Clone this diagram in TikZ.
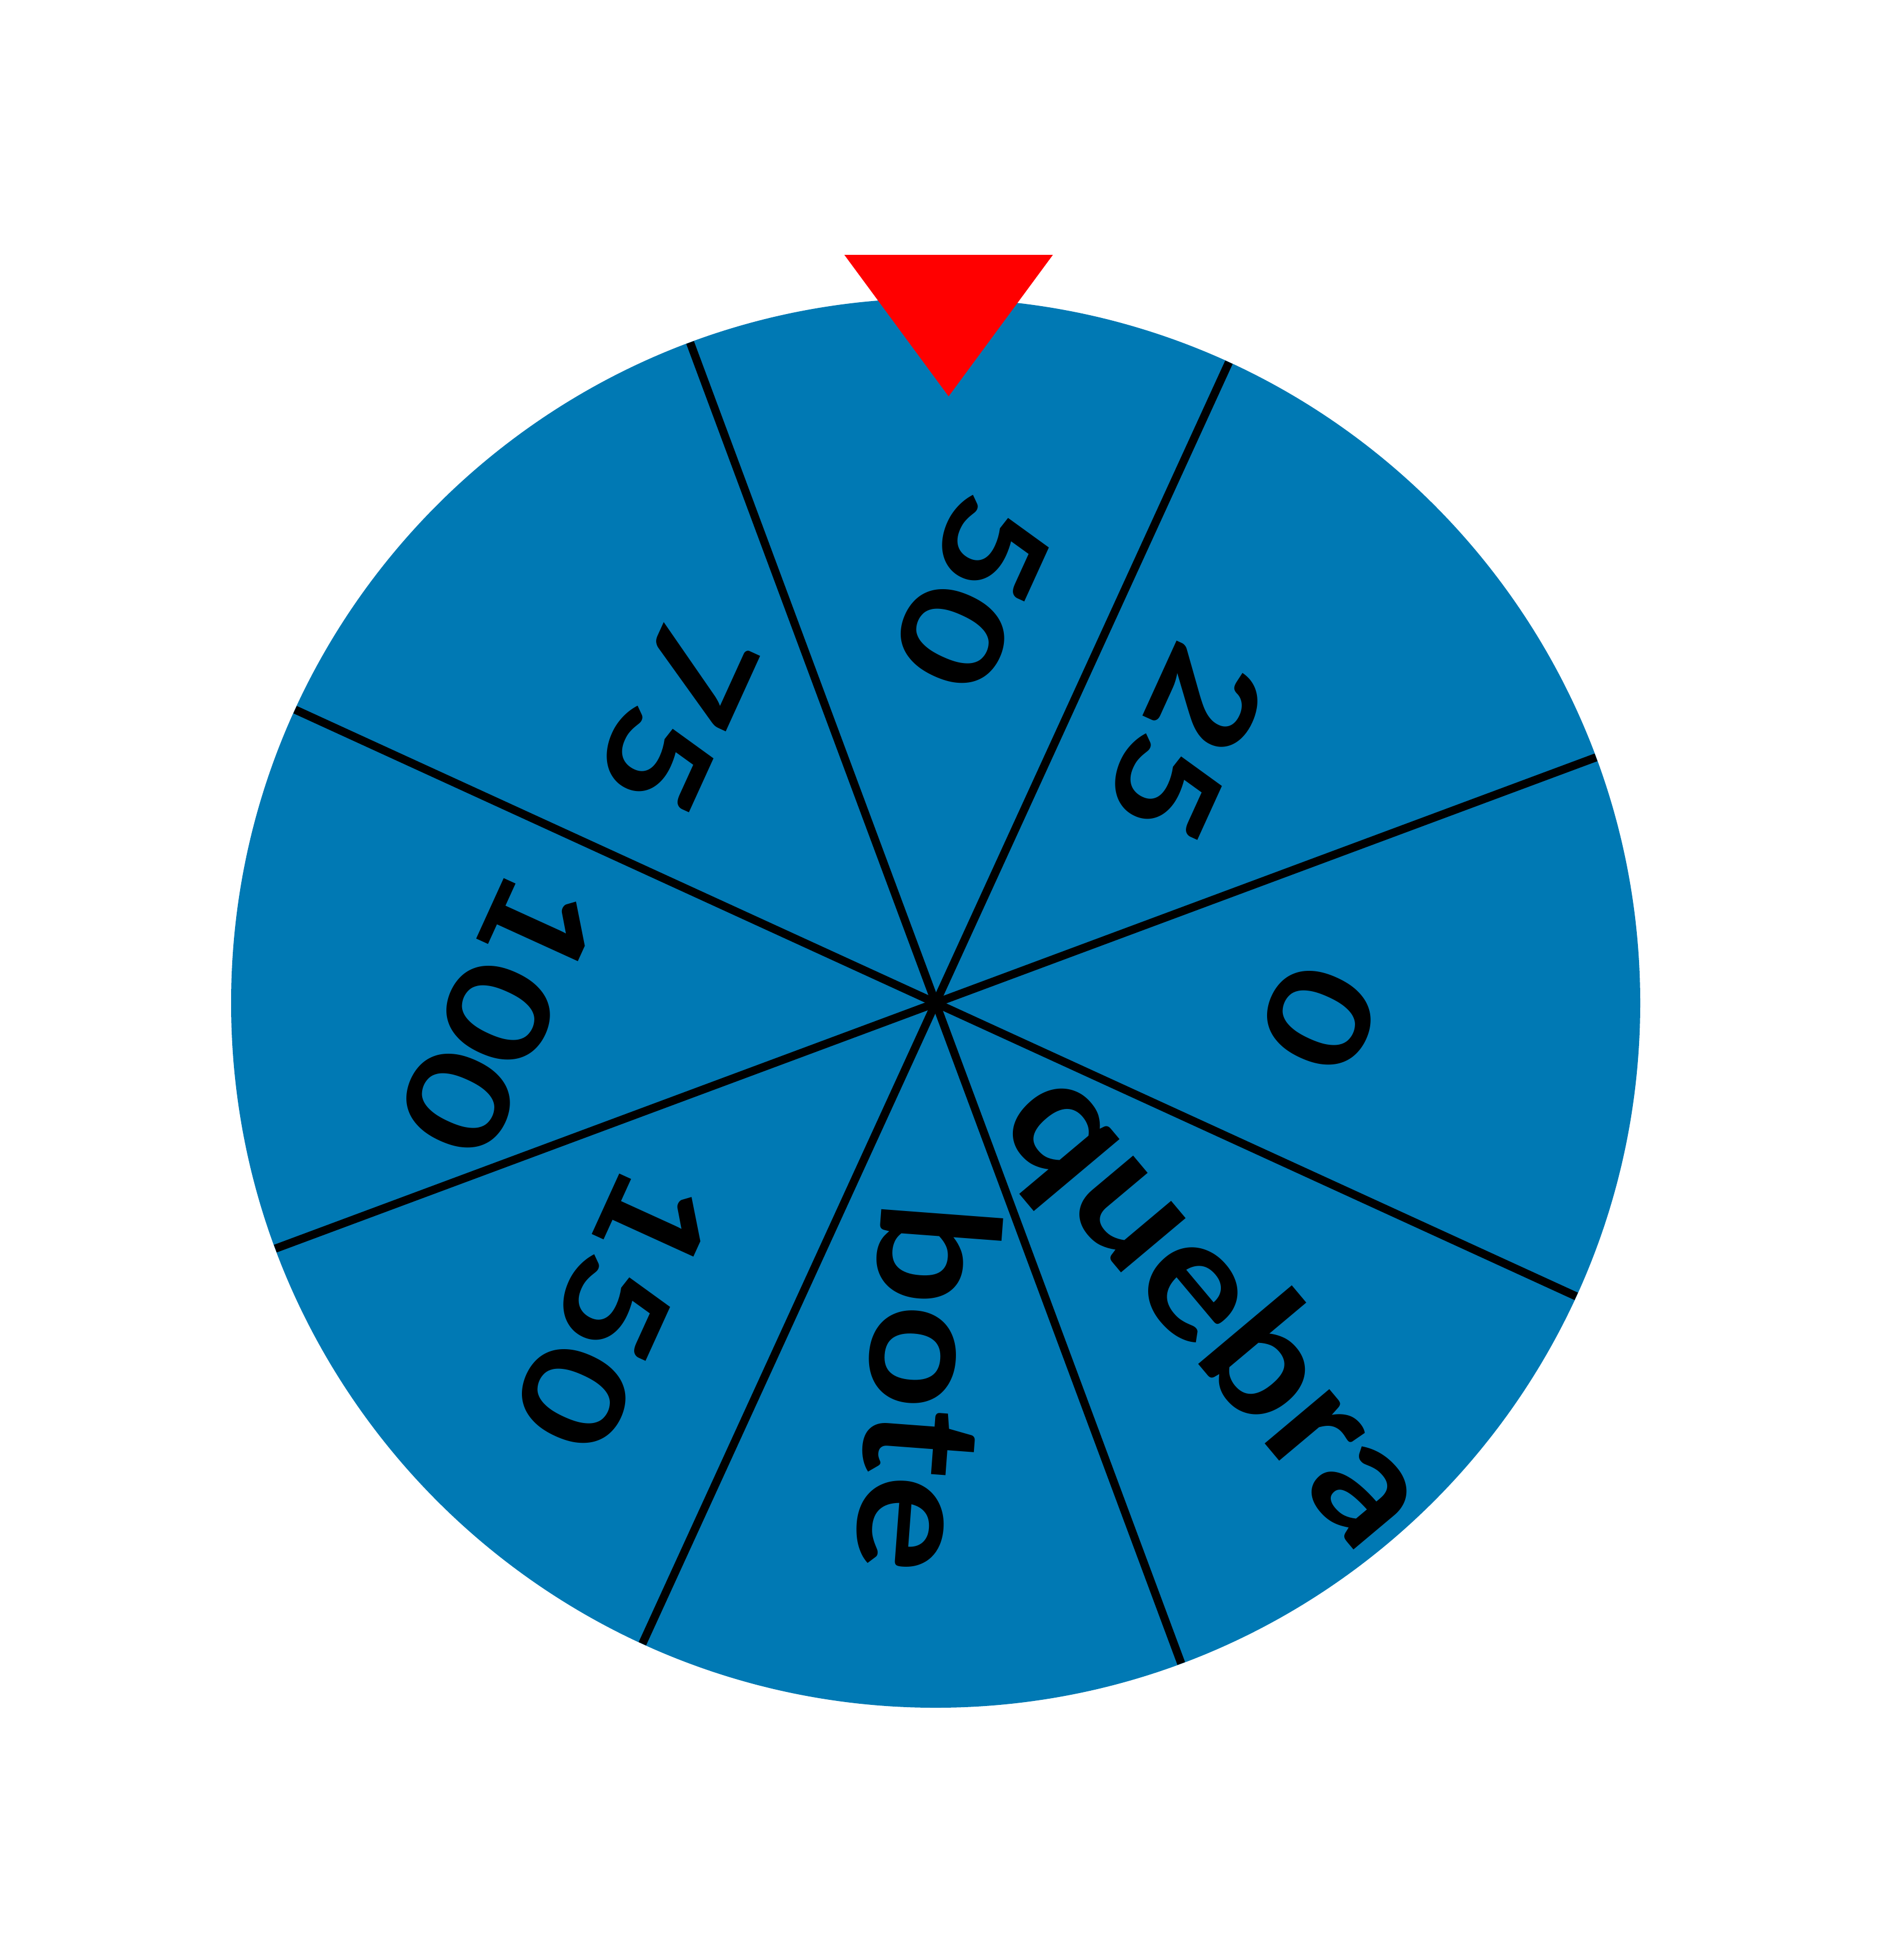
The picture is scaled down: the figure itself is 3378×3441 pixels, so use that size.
\documentclass[tikz,border=0pt]{standalone}
\usepackage{fontspec}
\setmainfont{Lato}
\definecolor{wheelblue}{RGB}{0,121,180}
\definecolor{pointerred}{RGB}{255,0,0}
\newcommand{\numtxt}[1]{\scalebox{1.18}[1]{#1}}
\newcommand{\wordtxt}[1]{\scalebox{1.11}[1]{#1}}
\begin{document}
\begin{tikzpicture}[x=0.01cm,y=0.01cm,
  spoke/.style={line width=4.1pt,black,line cap=butt},
  numlbl/.style={font=\bfseries\fontsize{71}{71}\selectfont,inner sep=0pt,anchor=center},
  wordlbl/.style={font=\bfseries\fontsize{83}{83}\selectfont,inner sep=0pt,anchor=center}]
\useasboundingbox (0,0) rectangle (3378,-3441);
\coordinate (c) at (1660,-1779);
\fill[wheelblue] (c) circle (1250);
\foreach \a [count=\i] in {20.4,65.4,110.4,155.4,200.4,245.4,290.4,335.4}{
  \path (c) ++(\a:1250) coordinate (rim\i);
  \draw[spoke] (c) -- (rim\i);
}
\node[numlbl,rotate=-114.5] (l50) at (1726,-1051) {\numtxt{50}};
\node[numlbl,rotate=-114.5] (l25) at (2104,-1319) {\numtxt{25}};
\node[numlbl,rotate=-114.5] (l0) at (2340,-1806) {\numtxt{0}};
\node[wordlbl,rotate=-50] (lquebra) at (2154,-2323) {\wordtxt{quebra}};
\node[wordlbl,rotate=-94.3] (lbote) at (1648,-2462) {\wordtxt{bote}};
\node[numlbl,rotate=-114.5] (l150) at (1089,-2321) {\numtxt{150}};
\node[numlbl,rotate=-114.5] (l100) at (884,-1797) {\numtxt{100}};
\node[numlbl,rotate=-114.5] (l75) at (1201,-1269) {\numtxt{75}};
\fill[pointerred] (1498,-452) -- (1868,-452) -- (1683,-703) -- cycle;
\end{tikzpicture}
\end{document}
